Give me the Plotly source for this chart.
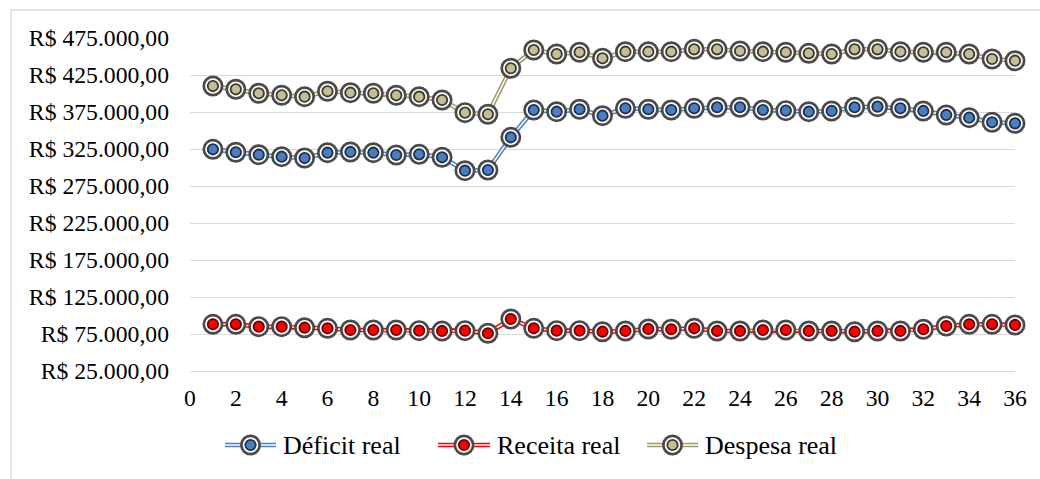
import plotly.graph_objects as go

# Monthly series (period 1..36), values in R$
periodo = list(range(1, 37))

deficit_real = [
    324600, 320600, 317300, 314600, 312800, 320000, 321000, 320000, 316900, 317800,
    313800, 295700, 296600, 340800, 377700, 375400, 378700, 370000, 380000, 378700,
    377700, 380000, 381400, 381400, 377700, 376800, 375400, 376400, 381400, 382200,
    380000, 376400, 371000, 367300, 361100, 359700,
]

receita_real = [
    88100, 88100, 84900, 84900, 83500, 82700, 80400, 80400, 80400, 79500,
    79100, 79500, 76000, 95300, 82700, 79500, 79500, 78100, 79100, 81800,
    81400, 82700, 79100, 79100, 80400, 80400, 79100, 79100, 78100, 79100,
    79100, 81400, 85800, 88100, 88100, 87200,
]

despesa_real = [
    410100, 405700, 400300, 397600, 395700, 403000, 401100, 400300, 397600, 395700,
    391200, 374100, 371900, 434100, 458800, 453400, 455700, 447600, 456500, 456500,
    456500, 459700, 459700, 457400, 456500, 455700, 454300, 453400, 459700, 459700,
    456500, 455700, 455700, 453400, 446600, 444300,
]

y_ticks = [25000, 75000, 125000, 175000, 225000, 275000, 325000, 375000, 425000, 475000]
y_tick_labels = [
    "R$ 25.000,00", "R$ 75.000,00", "R$ 125.000,00", "R$ 175.000,00", "R$ 225.000,00",
    "R$ 275.000,00", "R$ 325.000,00", "R$ 375.000,00", "R$ 425.000,00", "R$ 475.000,00",
]
x_ticks = list(range(0, 37, 2))

# Layout geometry (pixels)
W, H = 1040, 479
ML, MR, MT, MB = 190, 25, 38, 108
PW, PH = W - ML - MR, H - MT - MB

FONT = "Liberation Serif"
TICK_SIZE = 23.7
LEGEND_SIZE = 26
RING = "#4A4A4A"
GRID = "#D9D9D9"

series = [
    # name, values, line colour, marker fill, marker edge
    ("Déficit real", deficit_real, "#4F81BD", "#4A7EC0", "#1C3150"),
    ("Receita real", receita_real, "#FF0000", "#FF0000", "#6A0000"),
    ("Despesa real", despesa_real, "#A39A68", "#C4BD97", "#3E3A28"),
]

OUTER_SIZE, OUTER_W = 18.3, 2.7
INNER_SIZE, INNER_W = 10.4, 1.8
LINE_W, LINE_GAP = 4.6, 1.5

fig = go.Figure()
for name, vals, lc, fc, ec in series:
    fig.add_trace(go.Scatter(x=periodo, y=vals, mode="lines", name=name,
                             line=dict(color=lc, width=LINE_W), showlegend=False,
                             hoverinfo="skip"))
    fig.add_trace(go.Scatter(x=periodo, y=vals, mode="lines",
                             line=dict(color="white", width=LINE_GAP), showlegend=False,
                             hoverinfo="skip"))
    fig.add_trace(go.Scatter(x=periodo, y=vals, mode="markers", cliponaxis=False,
                             marker=dict(size=OUTER_SIZE, color="white",
                                         line=dict(color=RING, width=OUTER_W)),
                             showlegend=False, hoverinfo="skip"))
    fig.add_trace(go.Scatter(x=periodo, y=vals, mode="markers", name=name, cliponaxis=False,
                             marker=dict(size=INNER_SIZE, color=fc,
                                         line=dict(color=ec, width=INNER_W)),
                             showlegend=False))


def px_x(px):
    return (px - ML) / PW


def px_y(py):
    return (H - MB - py) / PH


shapes = [
    # chart frame
    dict(type="rect", xref="paper", yref="paper",
         x0=px_x(11), x1=px_x(1046), y0=px_y(485), y1=px_y(10),
         line=dict(color=GRID, width=1.3), fillcolor="rgba(0,0,0,0)", layer="below"),
]
annotations = []

# legend: double line, ringed marker, label
legend_y = 445
legend_items = [(225, 276), (438, 490), (647, 698)]
for (x0, x1), (name, vals, lc, fc, ec) in zip(legend_items, series):
    yy = px_y(legend_y)
    shapes.append(dict(type="line", xref="paper", yref="paper", x0=px_x(x0), x1=px_x(x1),
                       y0=yy, y1=yy, line=dict(color=lc, width=LINE_W)))
    shapes.append(dict(type="line", xref="paper", yref="paper", x0=px_x(x0), x1=px_x(x1),
                       y0=yy, y1=yy, line=dict(color="white", width=LINE_GAP)))
    cx = px_x((x0 + x1) / 2)
    r1 = OUTER_SIZE / 2
    shapes.append(dict(type="circle", xref="paper", yref="paper",
                       xsizemode="pixel", ysizemode="pixel", xanchor=cx, yanchor=yy,
                       x0=-r1, x1=r1, y0=-r1, y1=r1,
                       fillcolor="white", line=dict(color=RING, width=OUTER_W)))
    r2 = INNER_SIZE / 2
    shapes.append(dict(type="circle", xref="paper", yref="paper",
                       xsizemode="pixel", ysizemode="pixel", xanchor=cx, yanchor=yy,
                       x0=-r2, x1=r2, y0=-r2, y1=r2,
                       fillcolor=fc, line=dict(color=ec, width=INNER_W)))
    annotations.append(dict(text=name, xref="paper", yref="paper", x=px_x(x1 + 5), y=yy,
                            xanchor="left", yanchor="middle", showarrow=False,
                            font=dict(family=FONT, size=LEGEND_SIZE, color="black")))

fig.update_layout(
    width=W, height=H,
    margin=dict(l=ML, r=MR, t=MT, b=MB),
    paper_bgcolor="white", plot_bgcolor="white",
    font=dict(family=FONT, size=TICK_SIZE, color="black"),
    showlegend=False,
    shapes=shapes,
    annotations=annotations,
    xaxis=dict(range=[0, 36], tickvals=x_ticks, showgrid=False, zeroline=False,
               showline=True, linecolor=GRID, linewidth=1.3,
               ticks="", ticklabelstandoff=5,
               tickfont=dict(family=FONT, size=TICK_SIZE, color="black")),
    yaxis=dict(range=[25000, 475000], tickvals=y_ticks, ticktext=y_tick_labels,
               showgrid=True, gridcolor=GRID, gridwidth=1.3, zeroline=False,
               showline=False, ticks="", ticklabelstandoff=20,
               tickfont=dict(family=FONT, size=TICK_SIZE, color="black")),
)

fig.write_html("out.html")
